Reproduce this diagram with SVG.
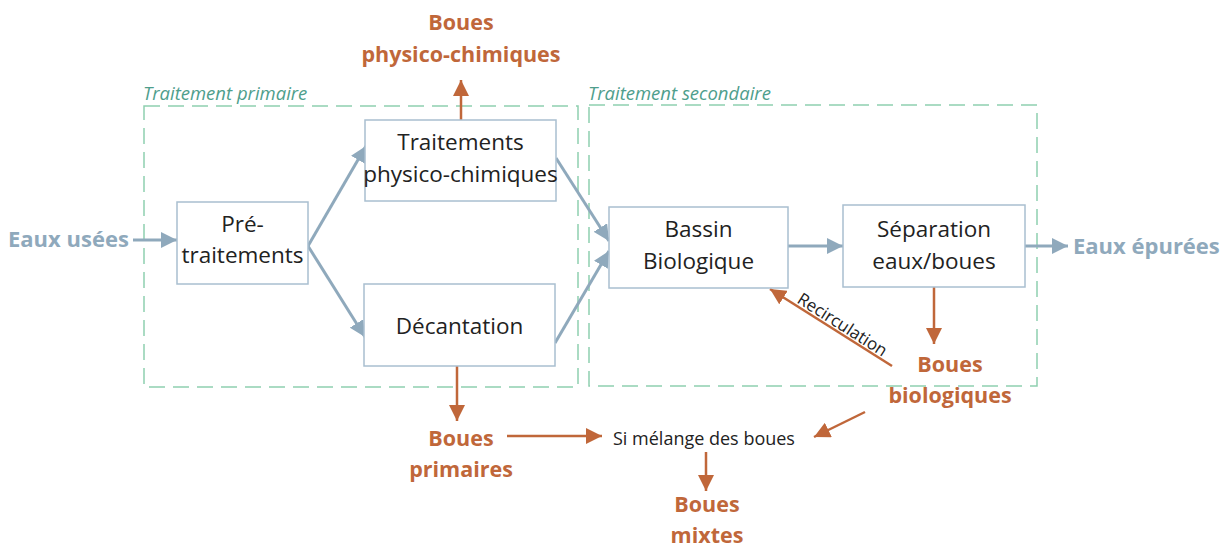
<svg xmlns="http://www.w3.org/2000/svg" width="1227" height="547" viewBox="0 0 1227 547">
<style>
.box{fill:#fff;stroke:#A9BFD0;stroke-width:1.5}
.grp{fill:none;stroke:#8FD0B0;stroke-width:1.5;stroke-dasharray:16 8}
.glab{font-family:"Open Sans",sans-serif;font-style:italic;font-size:18.5px;fill:#4E9E8C}
.t{font-family:"Open Sans",sans-serif;font-size:22.5px;fill:#222;text-anchor:middle}
.ob{font-family:"Open Sans",sans-serif;font-weight:bold;font-size:21.5px;fill:#C0673A;text-anchor:middle}
.bb{font-family:"Open Sans",sans-serif;font-weight:bold;font-size:22px;fill:#8FA9BC}
.small{font-family:"Open Sans",sans-serif;font-size:18px;fill:#222}
.rec{font-family:"Open Sans",sans-serif;font-size:17px;fill:#222}
.ba{fill:none;stroke:#8FA9BC;stroke-width:3}
.oa{fill:none;stroke:#C0673A;stroke-width:2.5}
</style>
<defs>
<marker id="hb" markerUnits="userSpaceOnUse" markerWidth="18" markerHeight="16" refX="16" refY="8" orient="auto"><path d="M0,0 L16,8 L0,16 Z" fill="#8FA9BC"/></marker>
<marker id="ho" markerUnits="userSpaceOnUse" markerWidth="18" markerHeight="16" refX="16" refY="8" orient="auto"><path d="M0,0 L16,8 L0,16 Z" fill="#C0673A"/></marker>
</defs>
<g id="group-primaire">
<rect class="grp" x="144" y="106" width="434" height="281"/>
<text class="glab" x="143" y="100">Traitement primaire</text>
</g>
<g id="group-secondaire">
<rect class="grp" x="589" y="105" width="448" height="281"/>
<text class="glab" x="588" y="100">Traitement secondaire</text>
</g>
<g id="connectors">
<line class="ba" x1="133" y1="240" x2="177" y2="240" marker-end="url(#hb)"/>
<line class="ba" x1="308" y1="246" x2="366" y2="146" marker-end="url(#hb)"/>
<line class="ba" x1="308" y1="246" x2="365" y2="337" marker-end="url(#hb)"/>
<line class="ba" x1="556" y1="158" x2="609" y2="241" marker-end="url(#hb)"/>
<line class="ba" x1="555" y1="343" x2="609" y2="251" marker-end="url(#hb)"/>
<line class="ba" x1="788" y1="246" x2="843" y2="246" marker-end="url(#hb)"/>
<line class="ba" x1="1025" y1="246" x2="1068" y2="246" marker-end="url(#hb)"/>
<line class="oa" x1="461" y1="120" x2="461" y2="80" marker-end="url(#ho)"/>
<line class="oa" x1="457" y1="366" x2="457" y2="421" marker-end="url(#ho)"/>
<line class="oa" x1="934" y1="287" x2="934" y2="344" marker-end="url(#ho)"/>
<line class="oa" x1="892" y1="366" x2="770" y2="289" marker-end="url(#ho)"/>
<line class="oa" x1="865" y1="412" x2="814" y2="437" marker-end="url(#ho)"/>
<line class="oa" x1="507" y1="436" x2="602" y2="436" marker-end="url(#ho)"/>
<line class="oa" x1="706" y1="452" x2="706" y2="491" marker-end="url(#ho)"/>
<text class="rec" transform="translate(796,302) rotate(32.5)">Recirculation</text>
</g>
<g id="pretraitements">
<rect class="box" x="177" y="202" width="131" height="82"/>
<text class="t" x="242.5" y="232">Pré-</text>
<text class="t" x="242.5" y="263">traitements</text>
</g>
<g id="physico">
<rect class="box" x="365" y="120" width="191" height="81"/>
<text class="t" x="460.5" y="150">Traitements</text>
<text class="t" x="460.5" y="182">physico-chimiques</text>
</g>
<g id="decantation">
<rect class="box" x="364" y="284" width="191" height="82"/>
<text class="t" x="459.5" y="334">Décantation</text>
</g>
<g id="bassin">
<rect class="box" x="609" y="207" width="179" height="81"/>
<text class="t" x="698.5" y="237">Bassin</text>
<text class="t" x="698.5" y="269">Biologique</text>
</g>
<g id="separation">
<rect class="box" x="843" y="205" width="182" height="82"/>
<text class="t" x="934" y="237">Séparation</text>
<text class="t" x="934" y="269">eaux/boues</text>
</g>
<g id="eaux-usees"><text class="bb" x="8" y="247">Eaux usées</text></g>
<g id="eaux-epurees"><text class="bb" x="1073" y="254">Eaux épurées</text></g>
<g id="boues-physico">
<text class="ob" x="461" y="30">Boues</text>
<text class="ob" x="461" y="62">physico-chimiques</text>
</g>
<g id="boues-primaires">
<text class="ob" x="461" y="446">Boues</text>
<text class="ob" x="461" y="477">primaires</text>
</g>
<g id="boues-biologiques">
<text class="ob" x="950" y="372">Boues</text>
<text class="ob" x="950" y="403">biologiques</text>
</g>
<g id="si-melange"><text class="small" x="613" y="445">Si mélange des boues</text></g>
<g id="boues-mixtes">
<text class="ob" x="707" y="512">Boues</text>
<text class="ob" x="707" y="543">mixtes</text>
</g>
</svg>
